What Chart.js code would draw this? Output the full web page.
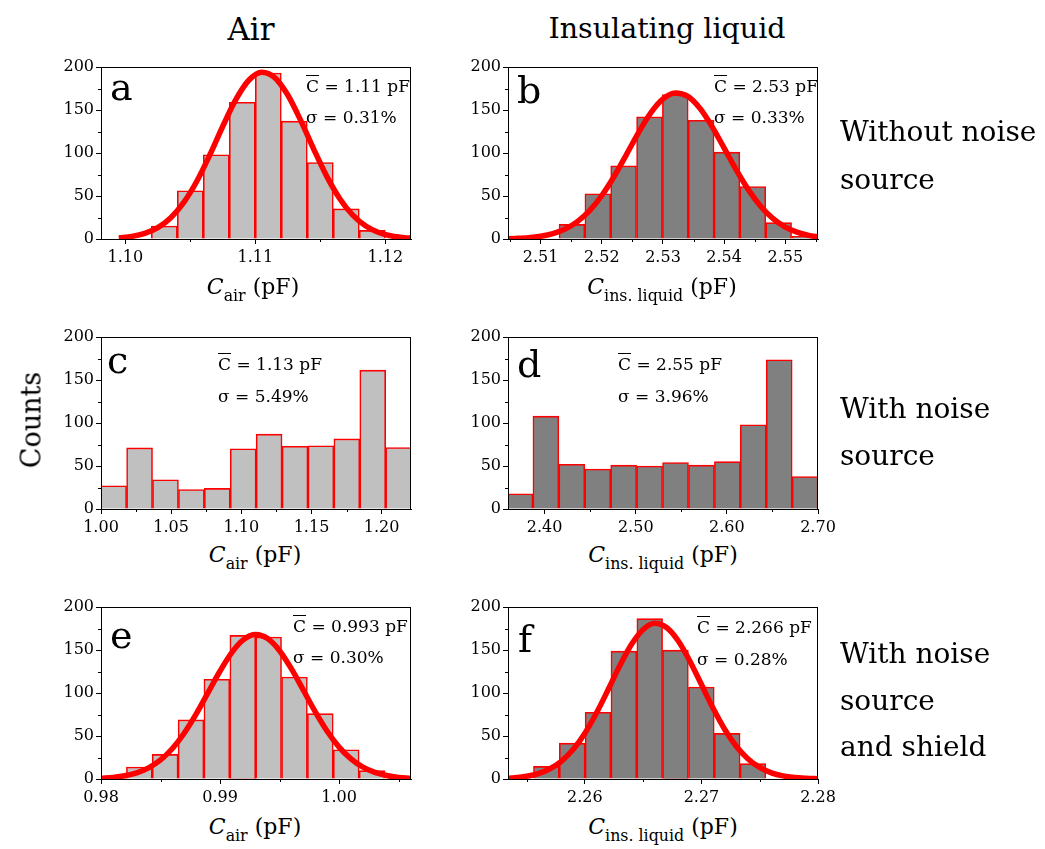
<!DOCTYPE html>
<html>
<head>
<meta charset="utf-8">
<script src="https://cdn.jsdelivr.net/npm/chart.js@4.4.0/dist/chart.umd.min.js"></script>
<style>
  body { margin: 0; background: #fff; width: 1045px; height: 849px; position: relative; overflow: hidden; font-family: "DejaVu Serif", serif; color: #000; }
  .t { position: absolute; white-space: nowrap; line-height: 1; }
  .t sub { font-size: 0.72em; vertical-align: -0.42em; line-height: 0; }
  .ov { text-decoration: overline; }
  canvas { position: absolute; }
</style>
</head>
<body>
<script>
// ---- data ----
// a: air, no noise source
const aCenters = [1.103, 1.105, 1.107, 1.109, 1.111, 1.113, 1.115, 1.117, 1.119];
const aCounts = [15, 56, 98, 159, 193, 137, 89, 35, 10];
const aFitX = [1.0995, 1.1005, 1.1015, 1.1025, 1.1035, 1.1045, 1.1055, 1.1065, 1.1075, 1.1085, 1.1095, 1.1105, 1.1115, 1.1125, 1.1135, 1.1145, 1.1155, 1.1165, 1.1175, 1.1185, 1.1195, 1.1205, 1.1215, 1.122];
const aFitY = [1.3, 3.0, 6.6, 13.3, 24.8, 42.5, 67.1, 97.7, 131.1, 162.0, 184.6, 194.0, 187.7, 167.4, 137.6, 104.3, 72.8, 46.9, 27.8, 15.2, 7.6, 3.5, 1.5, 1.0];
const aTicks = [1.10, 1.11, 1.12];
const aMinor = [1.105, 1.115];

// b: insulating liquid, no noise source
const bCenters = [2.51511, 2.51934, 2.52356, 2.52779, 2.53201, 2.53624, 2.54046, 2.54469, 2.54891, 2.55314];
const bCounts = [17, 52.5, 85, 142, 168, 138, 101, 61, 19, 3];
const bFitX = [2.504, 2.506, 2.508, 2.510, 2.512, 2.514, 2.516, 2.518, 2.520, 2.522, 2.524, 2.526, 2.528, 2.530, 2.532, 2.534, 2.536, 2.538, 2.540, 2.542, 2.544, 2.546, 2.548, 2.550, 2.552, 2.554, 2.556];
const bFitY = [0.3, 0.7, 1.5, 3.2, 6.3, 11.6, 20.2, 33.0, 50.6, 72.7, 97.9, 123.7, 146.6, 162.9, 169.9, 166.1, 152.3, 131.0, 105.7, 80.0, 56.8, 37.8, 23.6, 13.8, 7.6, 3.9, 1.9];
const bTicks = [2.51, 2.52, 2.53, 2.54, 2.55];
const bMinor = [2.505, 2.515, 2.525, 2.535, 2.545, 2.555];

// c: air, with noise source
const cCenters = [1.00903, 1.02749, 1.04595, 1.06441, 1.08287, 1.10133, 1.11979, 1.13825, 1.15671, 1.17517, 1.19363, 1.21209];
const cCounts = [27, 71, 34, 22.7, 24, 70, 87, 73, 73.5, 81.5, 161.5, 71.5];
const cTicks = [1.00, 1.05, 1.10, 1.15, 1.20];
const cMinor = [1.025, 1.075, 1.125, 1.175];

// d: insulating liquid, with noise source
const dCenters = [2.37293, 2.40138, 2.42983, 2.45828, 2.48673, 2.51518, 2.54363, 2.57208, 2.60053, 2.62898, 2.65743, 2.68588];
const dCounts = [17.7, 108, 52, 46.5, 51, 50, 54, 51, 55, 98, 173.5, 37.7];
const dTicks = [2.40, 2.50, 2.60, 2.70];
const dMinor = [2.45, 2.55, 2.65];

// e: air, noise source and shield
const eCenters = [0.98322, 0.98539, 0.98756, 0.98973, 0.99191, 0.99408, 0.99625, 0.99842, 1.00060, 1.00277];
const eCounts = [14, 28.6, 68.7, 116, 167, 165, 118.5, 76, 34, 9.7];
const eFitX = [0.980, 0.981, 0.982, 0.983, 0.984, 0.985, 0.986, 0.987, 0.988, 0.989, 0.990, 0.991, 0.992, 0.993, 0.994, 0.995, 0.996, 0.997, 0.998, 0.999, 1.000, 1.001, 1.002, 1.003, 1.004, 1.005, 1.006];
const eFitY = [0.8, 1.8, 3.7, 7.2, 13.0, 22.2, 35.5, 53.5, 75.7, 100.6, 125.6, 147.3, 162.3, 168.0, 163.3, 149.2, 128.0, 103.2, 78.1, 55.6, 37.1, 23.3, 13.7, 7.6, 4.0, 1.9, 0.9];
const eTicks = [0.98, 0.99, 1.00];
const eMinor = [0.985, 0.995, 1.005];

// f: insulating liquid, noise source and shield
const fCenters = [2.25669, 2.25891, 2.26112, 2.26334, 2.26556, 2.26777, 2.26999, 2.27221, 2.27442];
const fCounts = [14.7, 41.7, 77.6, 148.6, 186.5, 149.8, 107, 53, 17.8];
const fFitX = [2.253, 2.254, 2.255, 2.256, 2.257, 2.258, 2.259, 2.260, 2.261, 2.262, 2.263, 2.264, 2.265, 2.266, 2.267, 2.268, 2.269, 2.270, 2.271, 2.272, 2.273, 2.274, 2.275, 2.276, 2.277, 2.278, 2.279, 2.280];
const fFitY = [0.6, 1.5, 3.2, 6.3, 11.9, 20.9, 34.5, 53.3, 77.0, 104.1, 131.9, 156.6, 173.9, 181.0, 176.2, 160.8, 137.3, 109.8, 82.2, 57.6, 37.8, 23.3, 13.4, 7.2, 3.6, 1.7, 0.8, 0.3];
const fTicks = [2.26, 2.27, 2.28];
const fMinor = [2.255, 2.265, 2.275];

const countTicks = [0, 50, 100, 150, 200];
const countMinor = [25, 75, 125, 175];

// ---- layout ----
const PW = 310, PH = 172;      // plot area
const YW = 60, TP = 12, RP = 26, XH = 30;
const LIGHT = '#c0c0c0', DARK = '#808080', RED = '#ff0000';

Chart.defaults.font.family = '"DejaVu Serif", serif';
Chart.defaults.color = '#000';

const axisBits = {
  id: 'axisBits',
  afterDraw(chart, args, opts) {
    const { ctx, chartArea: a, scales } = chart;
    ctx.save();
    ctx.strokeStyle = '#000';
    ctx.lineWidth = 1;
    ctx.strokeRect(Math.round(a.left) + 0.5, Math.round(a.top) + 0.5, Math.round(a.right - a.left) - 1, Math.round(a.bottom - a.top));
    ctx.beginPath();
    opts.xMinor.forEach(v => {
      const px = Math.round(scales.x.getPixelForValue(v)) + 0.5;
      ctx.moveTo(px, a.bottom); ctx.lineTo(px, a.bottom + 3);
    });
    countMinor.forEach(v => {
      const py = Math.round(scales.y.getPixelForValue(v)) + 0.5;
      ctx.moveTo(a.left - 3, py); ctx.lineTo(a.left, py);
    });
    ctx.stroke();
    ctx.restore();
  }
};

function panel(left, top, p) {
  const cv = document.createElement('canvas');
  cv.width = YW + PW + RP;
  cv.height = TP + PH + XH;
  cv.style.left = (left - YW) + 'px';
  cv.style.top = (top - TP) + 'px';
  document.body.appendChild(cv);

  const datasets = [{
    type: 'bar',
    data: p.centers.map((x, i) => ({ x: x, y: p.counts[i] })),
    backgroundColor: p.fill,
    borderColor: RED,
    borderWidth: 1.6,
    barPercentage: 1,
    categoryPercentage: 1,
    order: 1
  }];
  if (p.fitX) {
    datasets.unshift({
      type: 'line',
      data: p.fitX.map((x, i) => ({ x: x, y: p.fitY[i] })),
      borderColor: RED,
      borderWidth: 5.5,
      pointRadius: 0,
      fill: false,
      cubicInterpolationMode: 'monotone',
      order: 0
    });
  }

  new Chart(cv, {
    type: 'bar',
    data: { datasets },
    options: {
      responsive: false,
      animation: false,
      events: [],
      layout: { padding: { top: TP, right: RP, left: 0, bottom: 0 } },
      plugins: { legend: { display: false }, tooltip: { enabled: false }, axisBits: { xMinor: p.minor } },
      scales: {
        x: {
          type: 'linear', min: p.min, max: p.max, offset: false,
          afterBuildTicks: s => { s.ticks = p.ticks.map(v => ({ value: v })); },
          afterFit: s => { s.height = XH; },
          grid: { drawOnChartArea: false, offset: false, tickLength: 5, color: '#000' },
          border: { color: '#000', width: 1 },
          ticks: { font: { size: 16 }, color: '#000', padding: 4, maxRotation: 0, autoSkip: false, callback: v => v.toFixed(2) }
        },
        y: {
          type: 'linear', min: 0, max: 200,
          afterBuildTicks: s => { s.ticks = countTicks.map(v => ({ value: v })); },
          afterFit: s => { s.width = YW; },
          grid: { drawOnChartArea: false, tickLength: 5, color: '#000' },
          border: { color: '#000', width: 1 },
          ticks: { font: { size: 16 }, color: '#000', padding: 2 }
        }
      }
    },
    plugins: [axisBits]
  });
}

panel(101, 67, { centers: aCenters, counts: aCounts, fitX: aFitX, fitY: aFitY, ticks: aTicks, minor: aMinor, min: 1.09813, max: 1.12198, fill: LIGHT });
panel(508, 67, { centers: bCenters, counts: bCounts, fitX: bFitX, fitY: bFitY, ticks: bTicks, minor: bMinor, min: 2.50466, max: 2.55534, fill: DARK });
panel(101, 337, { centers: cCenters, counts: cCounts, ticks: cTicks, minor: cMinor, min: 1.0, max: 1.2209, fill: LIGHT });
panel(508, 337, { centers: dCenters, counts: dCounts, ticks: dTicks, minor: dMinor, min: 2.3598, max: 2.70, fill: DARK });
panel(101, 607, { centers: eCenters, counts: eCounts, fitX: eFitX, fitY: eFitY, ticks: eTicks, minor: eMinor, min: 0.98, max: 1.00604, fill: LIGHT });
panel(508, 607, { centers: fCenters, counts: fCounts, fitX: fFitX, fitY: fFitY, ticks: fTicks, minor: fMinor, min: 2.2534, max: 2.28, fill: DARK });

// ---- text ----
// x: left (or centre when align is 'c'), y: baseline
function txt(html, x, y, size, align) {
  const d = document.createElement('div');
  d.className = 't';
  d.innerHTML = html;
  d.style.fontSize = size + 'px';
  d.style.top = (y - 0.846 * size) + 'px';
  d.style.left = x + 'px';
  if (align === 'c') d.style.transform = 'translateX(-50%)';
  document.body.appendChild(d);
  return d;
}

txt('Air', 251, 40, 31, 'c');
txt('Insulating liquid', 667, 39, 28.5, 'c');
const counts = txt('Counts', 31, 420, 27);
counts.style.top = '420px';
counts.style.transform = 'translate(-50%, -50%) rotate(-90deg)';

txt('Without noise', 840, 142, 28);
txt('source', 840, 190, 28);
txt('With noise', 840, 419, 28);
txt('source', 840, 466, 28);
txt('With noise', 840, 664, 28);
txt('source', 840, 711, 28);
txt('and shield', 840, 757, 28);

const letters = [['a', 110, 100], ['b', 517, 103], ['c', 107, 373], ['d', 517, 377], ['e', 110, 648], ['f', 518, 652]];
letters.forEach(l => txt(l[0], l[1], l[2], 38));

const notes = [
  ['1.11 pF', '0.31%', 306, 92, 123],
  ['2.53 pF', '0.33%', 714, 92, 123],
  ['1.13 pF', '5.49%', 218, 370, 402],
  ['2.55 pF', '3.96%', 618, 370, 402],
  ['0.993 pF', '0.30%', 293, 632, 663],
  ['2.266 pF', '0.28%', 697, 633, 665]
];
notes.forEach(n => {
  txt('<span class="ov">C</span> = ' + n[0], n[2], n[3], 17);
  txt('σ = ' + n[1], n[2], n[4], 17);
});

const airTitle = '<i>C</i><sub>air</sub> (pF)';
const liqTitle = '<i>C</i><sub>ins. liquid</sub> (pF)';
txt(airTitle, 253, 295, 22, 'c');
txt(liqTitle, 662, 295, 22, 'c');
txt(airTitle, 255, 563, 22, 'c');
txt(liqTitle, 663, 563, 22, 'c');
txt(airTitle, 255, 835, 22, 'c');
txt(liqTitle, 663, 835, 22, 'c');
</script>
</body>
</html>
